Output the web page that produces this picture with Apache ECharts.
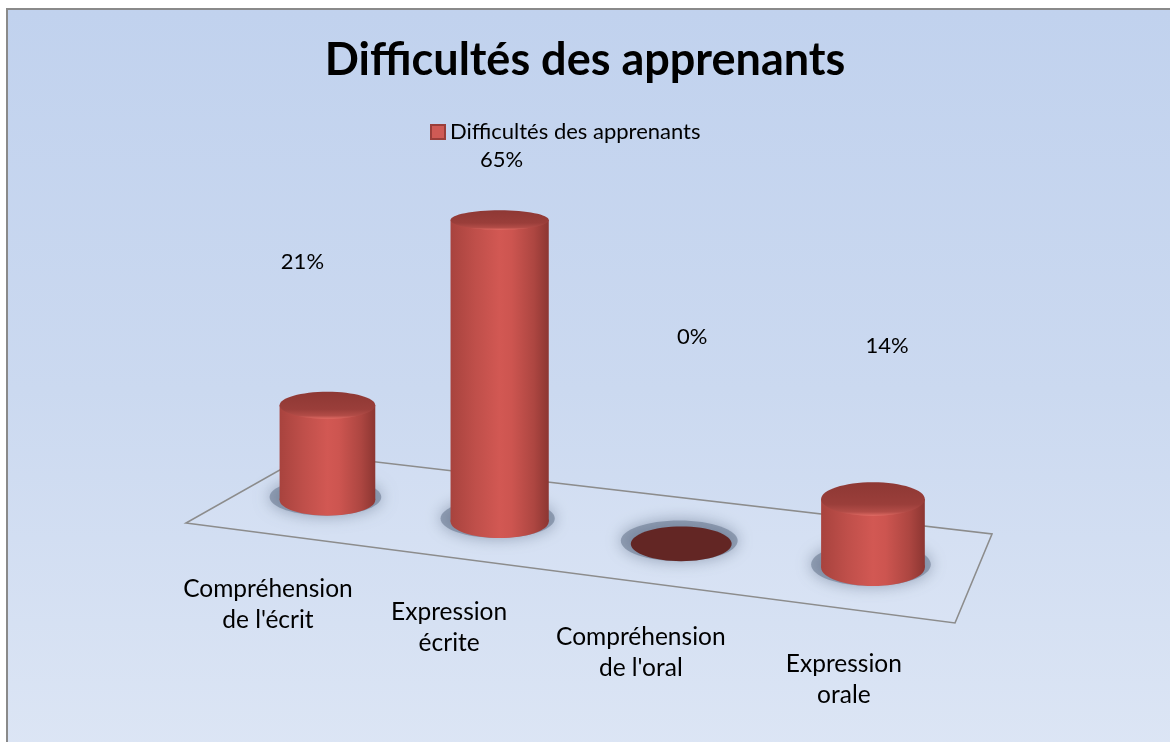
<!DOCTYPE html>
<html>
<head>
    <meta charset="utf-8"/>
    <title>Difficultés des apprenants</title>
    <script src="https://cdn.jsdelivr.net/npm/echarts@6/dist/echarts.min.js"></script>
    <style>
        html, body { margin: 0; padding: 0; background: #fff; overflow: hidden; }
        #frame {
            position: absolute; left: 6px; top: 8px; width: 1180px; height: 760px;
            border-left: 2px solid #8a8a8a; border-top: 2px solid #8a8a8a;
            background: linear-gradient(to bottom, #c1d2ee 0%, #cbd9f0 50%, #dde6f5 100%);
        }
        #chart { position: absolute; left: 0; top: 0; width: 1170px; height: 742px; }
    </style>
</head>
<body>
<div id="frame"></div>
<div id="chart"></div>
<script type="text/javascript">
    // données
    let categories = ["Compréhension\nde l'écrit", "Expression\nécrite", "Compréhension\nde l'oral", "Expression\norale"];
    let values = [21, 65, 0, 14];
    let valueLabels = ['21%', '65%', '0%', '14%'];
    let seriesName = 'Difficultés des apprenants';

    // placement des étiquettes façon Excel 3D (px au-dessus du sommet, décalage x)
    let labelLift = [143, 60, 207, 153];
    let labelShift = [-25, 2, 11, 14];

    // sol en perspective : avant-gauche, avant-droit, arrière-droit, arrière-gauche
    let floorQuad = [[186, 523], [955, 623], [992, 534], [308, 454]];
    let barDepth = 0.45;
    let barRadius = 50;
    let fullHeight = 472;

    // homographie carré unité -> quadrilatère
    let H = (function (q) {
        let x0 = q[0][0], y0 = q[0][1], x1 = q[1][0], y1 = q[1][1];
        let x2 = q[2][0], y2 = q[2][1], x3 = q[3][0], y3 = q[3][1];
        let dx1 = x1 - x2, dx2 = x3 - x2, dx3 = x0 - x1 + x2 - x3;
        let dy1 = y1 - y2, dy2 = y3 - y2, dy3 = y0 - y1 + y2 - y3;
        let den = dx1 * dy2 - dx2 * dy1;
        let g = (dx3 * dy2 - dx2 * dy3) / den;
        let h = (dx1 * dy3 - dx3 * dy1) / den;
        return {
            a: x1 - x0 + g * x1, b: x3 - x0 + h * x3, c: x0,
            d: y1 - y0 + g * y1, e: y3 - y0 + h * y3, f: y0, g: g, h: h
        };
    })(floorQuad);

    let project = function (u, v) {
        let w = H.g * u + H.h * v + 1;
        return {x: (H.a * u + H.b * v + H.c) / w, y: (H.d * u + H.e * v + H.f) / w, w: w};
    };

    let flat = function (rx, y) {
        return rx * Math.min(0.36, Math.max(0.16, 0.2 + (y - 220) * 0.00045));
    };

    let bodyGradient = new echarts.graphic.LinearGradient(0, 0, 1, 0, [
        {offset: 0, color: '#a8433e'},
        {offset: 0.25, color: '#bf4f4a'},
        {offset: 0.5, color: '#d25853'},
        {offset: 0.62, color: '#cd5550'},
        {offset: 0.85, color: '#ad4641'},
        {offset: 1, color: '#8c3632'}
    ]);
    let topGradient = new echarts.graphic.LinearGradient(0, 0, 0, 1, [
        {offset: 0, color: '#8e3834'},
        {offset: 0.65, color: '#9a3e3a'},
        {offset: 0.88, color: '#b24c47'},
        {offset: 1, color: '#e06a63'}
    ]);

    let renderItem = function (params, api) {
        let cs = params.coordSys;
        let i = api.value(0);
        let p0 = api.coord([i, 0]);
        let p1 = api.coord([i, api.value(1)]);
        let u = (p0[0] - cs.x) / cs.width;
        let hFrac = (p0[1] - p1[1]) / cs.height;

        let base = project(u, barDepth);
        let k = 1 / base.w;
        let rx = barRadius * k;
        let hPx = hFrac * fullHeight * k;
        let topY = base.y - hPx;
        let ryB = flat(rx, base.y);
        let ryT = flat(rx, topY);

        let children = [];
        // ombre portée
        children.push({
            type: 'ellipse',
            shape: {cx: base.x - 2, cy: base.y - 3, rx: rx + 8, ry: ryB + 3},
            style: {fill: 'rgba(100,114,138,0.55)', shadowBlur: 16, shadowColor: 'rgba(85,100,125,0.95)'}
        });
        if (hPx < 1) {
            children.push({
                type: 'ellipse',
                shape: {cx: base.x, cy: base.y, rx: rx, ry: ryB},
                style: {fill: '#632624'}
            });
        } else {
            children.push({
                type: 'ellipse',
                shape: {cx: base.x, cy: base.y, rx: rx, ry: ryB},
                style: {fill: bodyGradient}
            });
            children.push({
                type: 'rect',
                shape: {x: base.x - rx, y: topY, width: rx * 2, height: hPx},
                style: {fill: bodyGradient}
            });
            children.push({
                type: 'ellipse',
                shape: {cx: base.x, cy: topY, rx: rx, ry: ryT},
                style: {fill: topGradient}
            });
        }

        // étiquette de valeur
        children.push({
            type: 'text',
            x: base.x + labelShift[i],
            y: topY - labelLift[i],
            style: {
                text: valueLabels[i], fill: '#000', font: '22px Lato',
                align: 'center', verticalAlign: 'middle'
            }
        });

        // étiquette de catégorie sous le bord avant
        let front = project(u, 0);
        children.push({
            type: 'text',
            x: front.x - 5,
            y: front.y + 70,
            style: {
                text: categories[i], fill: '#000', font: '24.5px Lato', lineHeight: 31,
                align: 'center', verticalAlign: 'middle'
            }
        });

        return {type: 'group', children: children};
    };

    let chart = echarts.init(document.getElementById('chart'), null, {renderer: 'canvas'});
    chart.setOption({
        backgroundColor: 'transparent',
        animation: false,
        title: {
            text: 'Difficultés des apprenants',
            left: 'center',
            top: 33,
            textStyle: {fontFamily: 'Lato', fontWeight: 'bold', fontSize: 45, color: '#000'}
        },
        legend: {
            left: 425,
            top: 116,
            icon: 'rect',
            itemWidth: 14,
            itemHeight: 14,
            data: [seriesName],
            textStyle: {fontFamily: 'Lato', fontSize: 22, color: '#000'}
        },
        grid: {left: 0, right: 0, top: 0, bottom: 0},
        xAxis: {type: 'category', data: categories, show: false},
        yAxis: {type: 'value', min: 0, max: 100, show: false},
        graphic: [{
            type: 'polygon',
            z: 0,
            shape: {points: floorQuad},
            style: {fill: 'rgba(255,255,255,0.08)', stroke: '#8c8c8c', lineWidth: 1.6}
        }],
        series: [{
            name: seriesName,
            type: 'custom',
            renderItem: renderItem,
            itemStyle: {color: '#cf5a55', borderColor: '#9a3e3a', borderWidth: 1},
            encode: {x: 0, y: 1},
            data: values.map(function (v, i) { return [i, v]; }),
            z: 5
        }]
    });
</script>
</body>
</html>
